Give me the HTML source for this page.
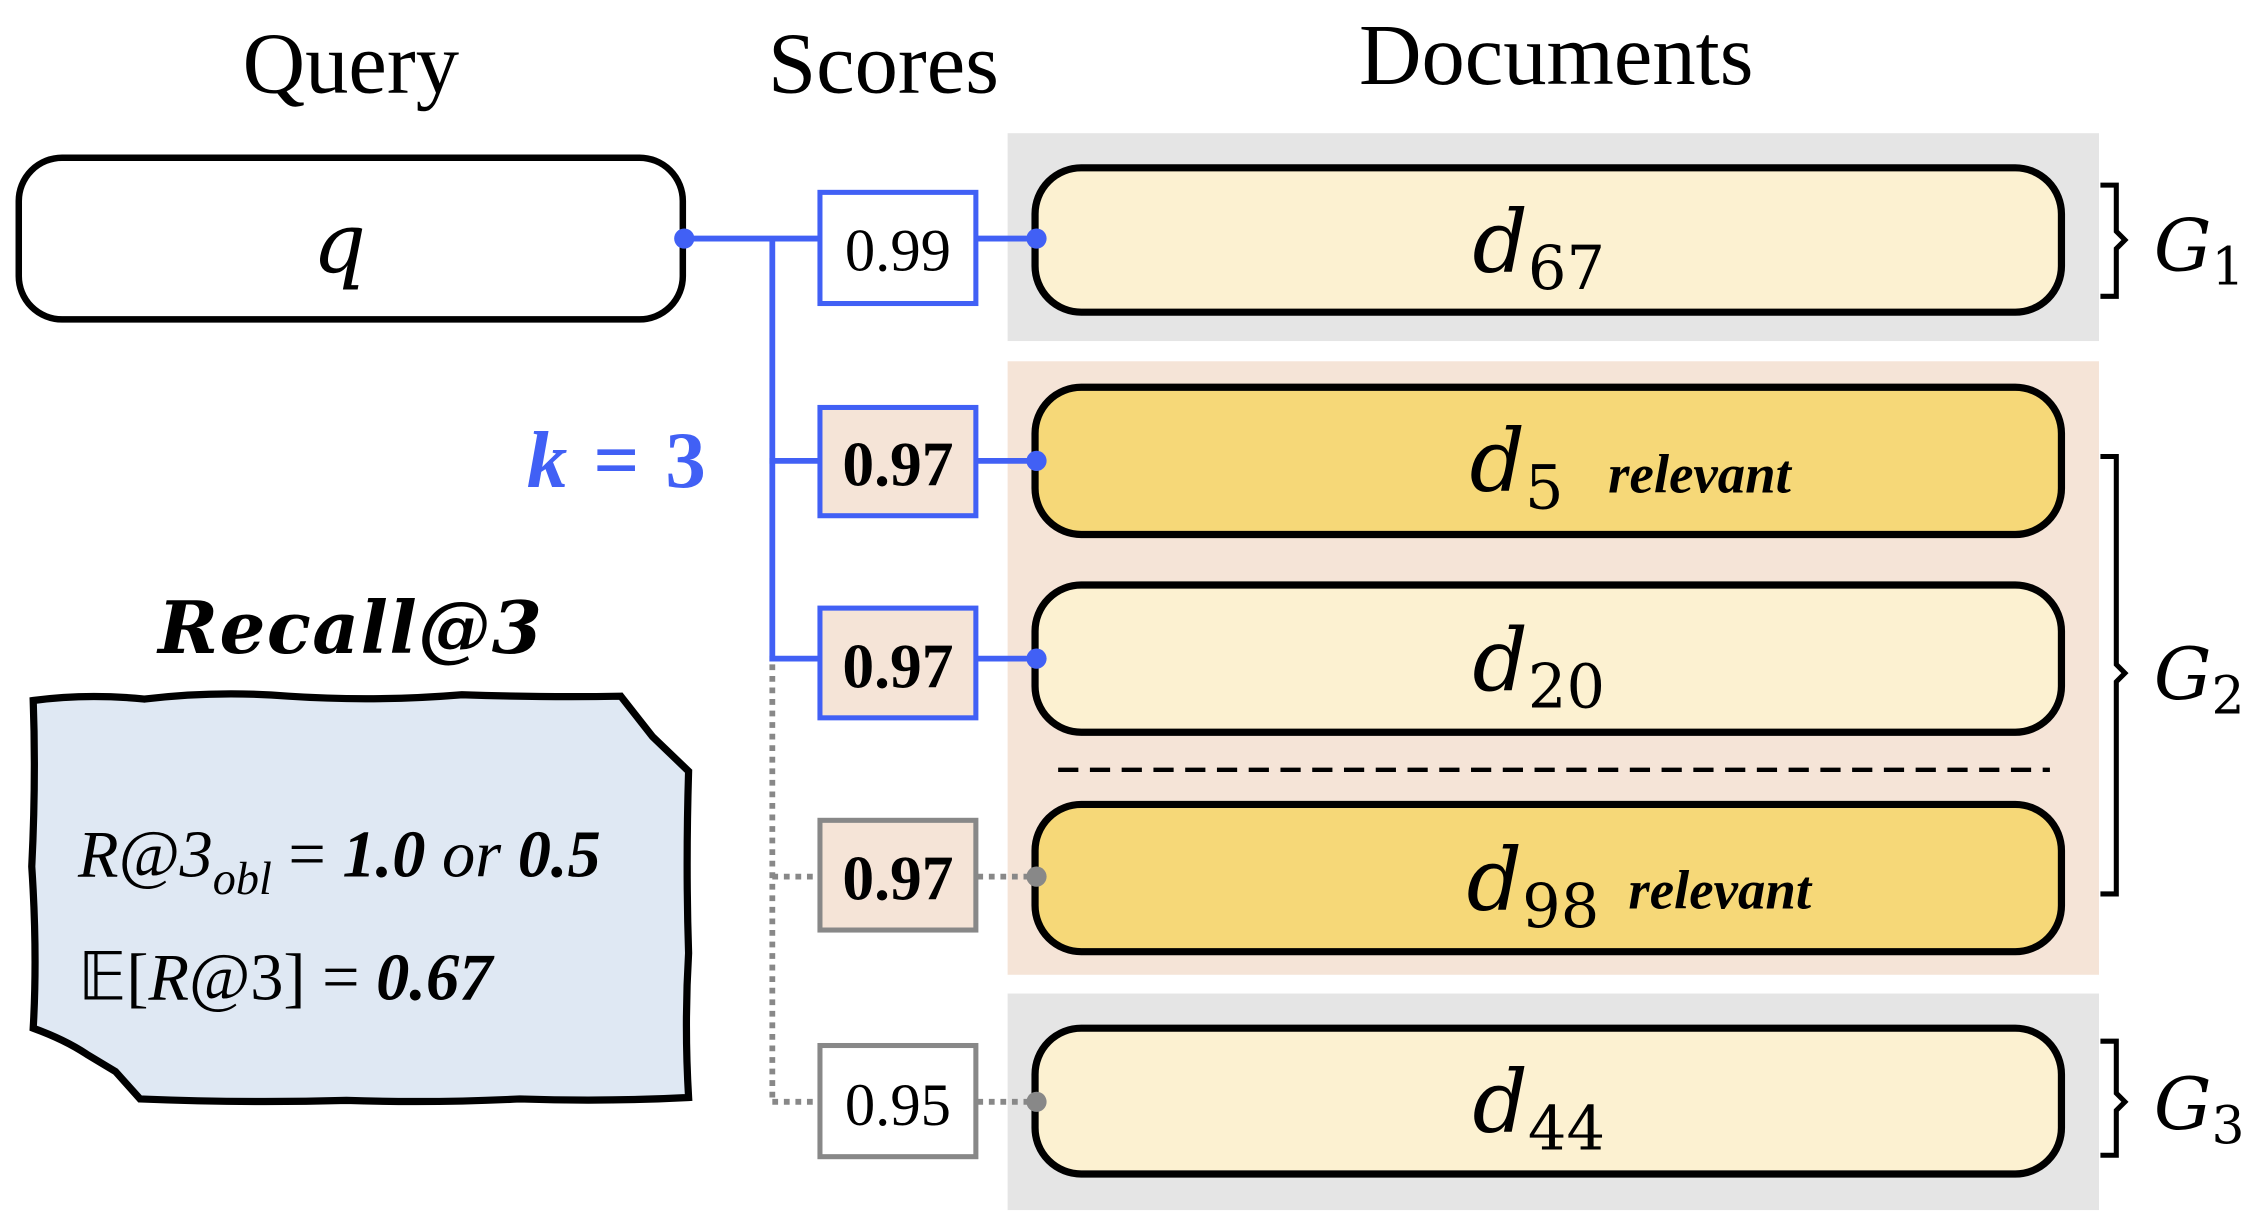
<!DOCTYPE html>
<html><head><meta charset="utf-8"><style>
html,body{margin:0;padding:0;background:#fff;}
svg{display:block;}
.serif{font-family:"Liberation Serif",serif;}
.math{font-family:"DejaVu Serif","Liberation Serif",serif;font-style:italic;}
</style></head><body>
<svg width="2252" height="1222" viewBox="0 0 1560 846" xmlns="http://www.w3.org/2000/svg">
<text class="serif" x="243" y="64" font-size="60" text-anchor="middle">Query</text>
<text class="serif" x="612" y="64" font-size="60" text-anchor="middle">Scores</text>
<text class="serif" x="1078" y="58" font-size="60" text-anchor="middle">Documents</text>

<rect x="698" y="92" width="756" height="144" fill="#e5e5e5"/>
<rect x="698" y="250" width="756" height="425" fill="#f5e4d7"/>
<rect x="698" y="688" width="756" height="150" fill="#e5e5e5"/>

<rect x="13" y="109" width="460" height="112" rx="30" fill="#fff" stroke="#000" stroke-width="4.5"/>
<text class="math" x="235" y="188" font-size="58" text-anchor="middle">q</text>

<g stroke="#4160f5" stroke-width="4" fill="none">
<line x1="474" y1="165" x2="567" y2="165"/>
<line x1="535" y1="165" x2="535" y2="458"/>
<line x1="533" y1="319" x2="567" y2="319"/>
<line x1="533" y1="456" x2="567" y2="456"/>
<line x1="677" y1="165" x2="718" y2="165"/>
<line x1="677" y1="319" x2="718" y2="319"/>
<line x1="677" y1="456" x2="718" y2="456"/>
</g>
<g stroke="#888" stroke-width="4" stroke-dasharray="4,4" fill="none">
<line x1="535" y1="460" x2="535" y2="763"/>
<line x1="535" y1="607" x2="567" y2="607"/>
<line x1="535" y1="763" x2="567" y2="763"/>
<line x1="677" y1="607" x2="718" y2="607"/>
<line x1="677" y1="763" x2="718" y2="763"/>
</g>

<rect x="568" y="133" width="108" height="77" fill="#fff" stroke="#4160f5" stroke-width="3.5"/>
<text class="serif" x="622" y="187" font-size="42" text-anchor="middle">0.99</text>
<rect x="568" y="282" width="108" height="75" fill="#f5e4d7" stroke="#4160f5" stroke-width="3.5"/>
<text class="serif" x="622" y="336" font-size="44" font-weight="bold" text-anchor="middle">0.97</text>
<rect x="568" y="421" width="108" height="76" fill="#f5e4d7" stroke="#4160f5" stroke-width="3.5"/>
<text class="serif" x="622" y="476" font-size="44" font-weight="bold" text-anchor="middle">0.97</text>
<rect x="568" y="568" width="108" height="76" fill="#f5e4d7" stroke="#888" stroke-width="3.5"/>
<text class="serif" x="622" y="623" font-size="44" font-weight="bold" text-anchor="middle">0.97</text>
<rect x="568" y="724" width="108" height="77" fill="#fff" stroke="#888" stroke-width="3.5"/>
<text class="serif" x="622" y="779" font-size="42" text-anchor="middle">0.95</text>

<rect x="717" y="116" width="711" height="100" rx="32" fill="#fcf1d1" stroke="#000" stroke-width="5"/>
<rect x="717" y="268" width="711" height="102" rx="32" fill="#f6d878" stroke="#000" stroke-width="5"/>
<rect x="717" y="405" width="711" height="102" rx="32" fill="#fcf1d1" stroke="#000" stroke-width="5"/>
<rect x="717" y="557" width="711" height="102" rx="32" fill="#f6d878" stroke="#000" stroke-width="5"/>
<rect x="717" y="712" width="711" height="101" rx="32" fill="#fcf1d1" stroke="#000" stroke-width="5"/>
<line x1="733" y1="533" x2="1420" y2="533" stroke="#000" stroke-width="3" stroke-dasharray="14,8"/>

<g fill="#4160f5">
<circle cx="474" cy="165" r="7"/><circle cx="718" cy="165" r="7"/><circle cx="718" cy="319" r="7"/><circle cx="718" cy="456" r="7"/>
</g>
<g fill="#888"><circle cx="718" cy="607" r="7"/><circle cx="718" cy="763" r="7"/></g>

<g class="math" font-size="60">
<text x="1020" y="188">d<tspan font-style="normal" font-size="42" dy="12">67</tspan></text>
<text x="1018" y="340">d<tspan font-style="normal" font-size="42" dy="12">5</tspan></text>
<text x="1020" y="478">d<tspan font-style="normal" font-size="42" dy="12">20</tspan></text>
<text x="1016" y="630">d<tspan font-style="normal" font-size="42" dy="12">98</tspan></text>
<text x="1020" y="784">d<tspan font-style="normal" font-size="42" dy="12">44</tspan></text>
</g>
<text class="serif" x="1114" y="341" font-size="38" font-style="italic" font-weight="bold">relevant</text>
<text class="serif" x="1128" y="629" font-size="38" font-style="italic" font-weight="bold">relevant</text>

<g stroke="#000" stroke-width="3.5" fill="none">
<path d="M1455,128 H1466 V160 L1472,166 L1466,172 V205 H1455"/>
<path d="M1455,316 H1466 V460 L1472,466 L1466,472 V619 H1455"/>
<path d="M1455,721 H1466 V757 L1472,763 L1466,769 V800 H1455"/>
</g>
<g class="math" font-size="50">
<text x="1492" y="187">G<tspan font-style="normal" font-size="36" dy="10">1</tspan></text>
<text x="1492" y="484">G<tspan font-style="normal" font-size="36" dy="10">2</tspan></text>
<text x="1492" y="782">G<tspan font-style="normal" font-size="36" dy="10">3</tspan></text>
</g>

<text class="serif" x="365" y="337" font-size="56" font-weight="bold" fill="#4160f5"><tspan font-style="italic">k</tspan> <tspan dx="4">=</tspan> <tspan dx="4">3</tspan></text>

<text class="math" x="243" y="452" font-size="50" font-weight="bold" text-anchor="middle" letter-spacing="1">Recall@3</text>
<path d="M23,485 Q60,480 100,484 Q150,478 200,482 Q260,486 320,481 Q380,483 430,482 L452,510 L477,534 Q475,600 477,660 Q474,710 477,760 Q420,763 360,761 Q300,764 240,762 Q170,764 97,761 L80,742 L60,730 Q45,720 23,712 Q26,660 22,600 Q25,540 23,485 Z" fill="#dfe8f3" stroke="#000" stroke-width="5"/>
<text class="serif" x="54" y="607" font-size="46" font-style="italic">R@3<tspan font-size="32" dy="12">obl</tspan><tspan dy="-12" font-style="normal"> = </tspan><tspan font-weight="bold">1.0</tspan> or <tspan font-weight="bold">0.5</tspan></text>
<text class="serif" x="54" y="692" font-size="46">𝔼[<tspan font-style="italic">R</tspan>@3] = <tspan font-weight="bold" font-style="italic">0.67</tspan></text>
</svg>
</body></html>
